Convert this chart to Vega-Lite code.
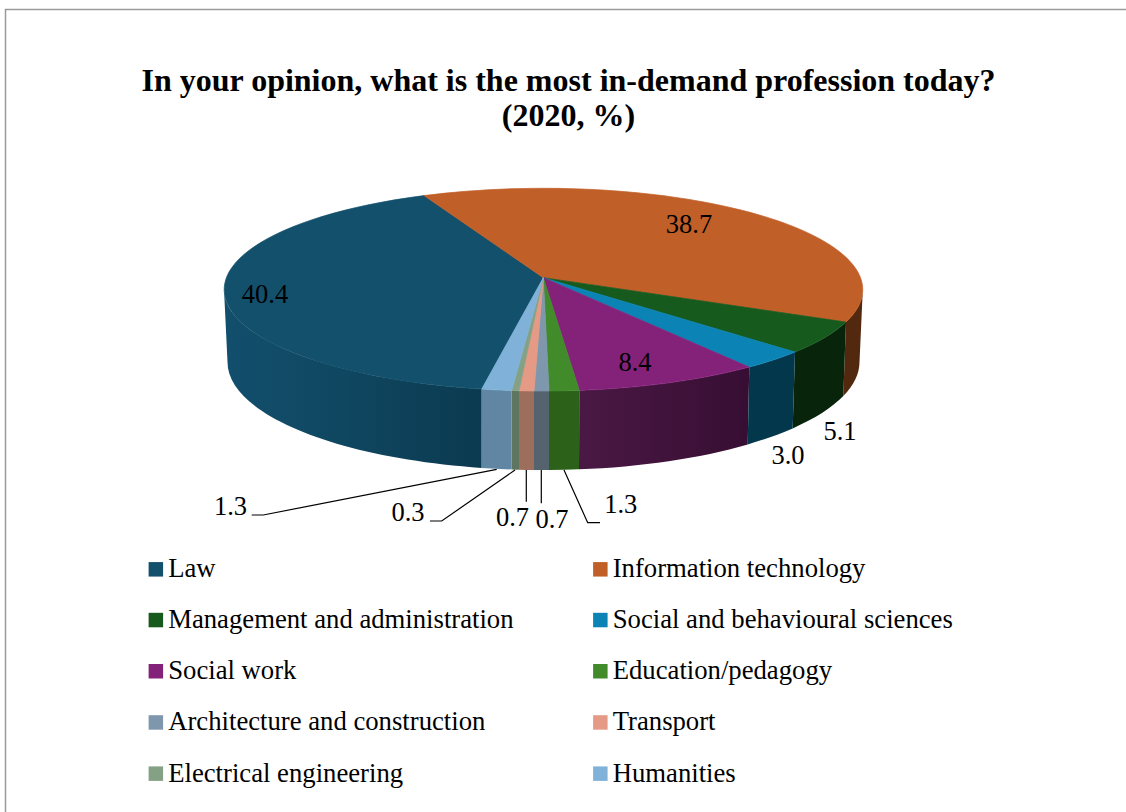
{
"$schema":"https://vega.github.io/schema/vega-lite/v6.json",
"width":1126,"height":812,"padding":0,"autosize":{"type":"none"},
"background":"white",
"config":{"view":{"stroke":null},"font":"Liberation Serif"},
"title":{"text":["In your opinion, what is the most in-demand profession today?","(2020, %)"],"font":"Liberation Serif","fontSize":32,"fontWeight":"bold","color":"black","anchor":"middle","align":"center","baseline":"alphabetic","offset":0,"dx":5.5,"dy":157.5,"lineHeight":35},
"data":{"values":[
{"rank":1,"profession":"Law","value":40.4},
{"rank":2,"profession":"Information technology","value":38.7},
{"rank":3,"profession":"Management and administration","value":5.1},
{"rank":4,"profession":"Social and behavioural sciences","value":3.0},
{"rank":5,"profession":"Social work","value":8.4},
{"rank":6,"profession":"Education/pedagogy","value":1.3},
{"rank":7,"profession":"Architecture and construction","value":0.7},
{"rank":8,"profession":"Transport","value":0.7},
{"rank":9,"profession":"Electrical engineering","value":0.3},
{"rank":10,"profession":"Humanities","value":1.3}
]},
"layer":[
{"data":{"values":[{"frame":"border"}]},
 "mark":{"type":"point","shape":"M-557.5,406L-557.5,-396.5L563,-396.5","size":4,"filled":false,"stroke":"#9a9a9a","strokeWidth":1.5,"opacity":1},"encoding":{}},
{"transform":[{"filter":"datum.profession === 'Law'"}],
 "mark":{"type":"point","filled":true,"size":4,"opacity":1,"fill":{"gradient":"linear","x1":0,"y1":0,"x2":1,"y2":0,"stops":[{"offset":0,"color":"#124f6d"},{"offset":0.5,"color":"#0f465f"},{"offset":1,"color":"#0b3a50"}]}},
 "encoding":{"shape":{"field":"profession","type":"nominal","legend":null,"scale":{"domain":["Law"],"range":["M-339,-116.4A319.4 101.4 0 0 0 -81.3,-16.9L-81.3,61.9A316 108 0 0 1 -335.5,-44Z"]}}}},
{"transform":[{"filter":"datum.profession === 'Social work'"}],
 "mark":{"type":"point","filled":true,"size":4,"opacity":1,"fill":{"gradient":"linear","x1":0,"y1":0,"x2":1,"y2":0,"stops":[{"offset":0,"color":"#4a1844"},{"offset":1,"color":"#370e33"}]}},
 "encoding":{"shape":{"field":"profession","type":"nominal","legend":null,"scale":{"domain":["Social work"],"range":["M186.3,-38.9A319.4 101.4 0 0 1 16.3,-15.6L16,63.3A316 108 0 0 0 184.7,38.4Z"]}}}},
{"transform":[{"filter":"datum.profession !== 'Law' && datum.profession !== 'Social work'"}],
 "mark":{"type":"point","filled":true,"size":4,"opacity":1},
 "encoding":{
 "shape":{"field":"profession","type":"nominal","legend":null,"scale":{
  "domain":["Information technology","Management and administration","Social and behavioural sciences","Education/pedagogy","Architecture and construction","Transport","Electrical engineering","Humanities"],
  "range":[
  "M299.8,-116.4A319.4 101.4 0 0 1 283,-83.95L280.3,-9.9A316 108 0 0 0 296.5,-44Z",
  "M283,-83.95A319.4 101.4 0 0 1 232,-53.9L229.7,22.4A316 108 0 0 0 280.3,-9.9Z",
  "M232,-53.9A319.4 101.4 0 0 1 186.3,-38.9L184.7,38.4A316 108 0 0 0 229.7,22.4Z",
  "M16.3,-15.6A319.4 101.4 0 0 1 -14,-15L-14,64A316 108 0 0 0 16,63.3Z",
  "M-14,-15A319.4 101.4 0 0 1 -29,-15L-29,64A316 108 0 0 0 -14,64Z",
  "M-29,-15A319.4 101.4 0 0 1 -44,-15.3L-44,63.7A316 108 0 0 0 -29,64Z",
  "M-44,-15.3A319.4 101.4 0 0 1 -51.3,-15.5L-51.3,63.45A316 108 0 0 0 -44,63.7Z",
  "M-51.3,-15.5A319.4 101.4 0 0 1 -81.3,-16.9L-81.3,61.9A316 108 0 0 0 -51.3,63.45Z"
  ]}},
 "color":{"field":"profession","type":"nominal","legend":null,"scale":{
  "domain":["Information technology","Management and administration","Social and behavioural sciences","Education/pedagogy","Architecture and construction","Transport","Electrical engineering","Humanities"],
  "range":["#52280e","#08240b","#03384c","#2b6118","#55636f","#9e6e5c","#5e7560","#6186a3"]}}
 }},
{"mark":{"type":"point","filled":true,"size":4,"opacity":1,"strokeWidth":0.7},
 "encoding":{
 "shape":{"field":"profession","type":"nominal","legend":null,"scale":{
  "domain":["Law","Information technology","Management and administration","Social and behavioural sciences","Social work","Education/pedagogy","Architecture and construction","Transport","Electrical engineering","Humanities"],
  "range":[
  "M-19.7,-128.3L-81.3,-16.9A319.4 101.4 0 0 1 -139,-210.4Z",
  "M-19.7,-128.3L-139,-210.4A319.4 101.4 0 0 1 283,-83.95Z",
  "M-19.7,-128.3L283,-83.95A319.4 101.4 0 0 1 232,-53.9Z",
  "M-19.7,-128.3L232,-53.9A319.4 101.4 0 0 1 186.3,-38.9Z",
  "M-19.7,-128.3L186.3,-38.9A319.4 101.4 0 0 1 16.3,-15.6Z",
  "M-19.7,-128.3L16.3,-15.6A319.4 101.4 0 0 1 -14,-15Z",
  "M-19.7,-128.3L-14,-15A319.4 101.4 0 0 1 -29,-15Z",
  "M-19.7,-128.3L-29,-15A319.4 101.4 0 0 1 -44,-15.3Z",
  "M-19.7,-128.3L-44,-15.3A319.4 101.4 0 0 1 -51.3,-15.5Z",
  "M-19.7,-128.3L-51.3,-15.5A319.4 101.4 0 0 1 -81.3,-16.9Z"
  ]}},
 "fill":{"field":"profession","type":"nominal","legend":null,"scale":{
  "domain":["Law","Information technology","Management and administration","Social and behavioural sciences","Social work","Education/pedagogy","Architecture and construction","Transport","Electrical engineering","Humanities"],
  "range":["#12506c","#c15f28","#175a1e","#0b84b5","#84227a","#418b2b","#7f97ac","#e49a85","#84a085","#7fb1d9"]}},
 "stroke":{"field":"profession","type":"nominal","legend":null,"scale":{
  "domain":["Law","Information technology","Management and administration","Social and behavioural sciences","Social work","Education/pedagogy","Architecture and construction","Transport","Electrical engineering","Humanities"],
  "range":["#12506c","#c15f28","#175a1e","#0b84b5","#84227a","#418b2b","#7f97ac","#e49a85","#84a085","#7fb1d9"]}}
 }},
{"mark":{"type":"square","filled":true,"size":0,"opacity":1},
 "encoding":{
 "color":{"field":"profession","type":"nominal","scale":{
  "domain":["Law","Information technology","Management and administration","Social and behavioural sciences","Social work","Education/pedagogy","Architecture and construction","Transport","Electrical engineering","Humanities"],
  "range":["#12506c","#c15f28","#175a1e","#0b84b5","#84227a","#418b2b","#7f97ac","#e49a85","#84a085","#7fb1d9"]},
  "legend":{"orient":"none","legendX":142.5,"legendY":555.5,"direction":"horizontal","columns":2,"title":null,"symbolType":"square","symbolSize":210,"symbolStrokeWidth":0,"symbolOpacity":1,"labelFont":"Liberation Serif","labelFontSize":26.7,"labelColor":"black","labelLimit":600,"labelOffset":-1,"columnPadding":72.5,"rowPadding":23.2,"padding":0,"gridAlign":"all"}}
 }},
{"data":{"values":[
 {"profession":"Humanities"},{"profession":"Electrical engineering"},{"profession":"Transport"},{"profession":"Architecture and construction"},{"profession":"Education/pedagogy"}
 ]},
 "mark":{"type":"point","filled":false,"size":4,"opacity":1,"stroke":"black","strokeWidth":1.2},
 "encoding":{"shape":{"field":"profession","type":"nominal","legend":null,"scale":{
  "domain":["Humanities","Electrical engineering","Transport","Architecture and construction","Education/pedagogy"],
  "range":[
  "M-311.3,109L-299.7,109L-66.3,63.3",
  "M-133,115L-121.3,115L-48,64",
  "M-36.7,64L-36.7,95.7",
  "M-21.7,64L-21.7,97.3",
  "M37,116.7L24.7,116.7L1,64"
  ]}}}},
{"mark":{"type":"text","font":"Liberation Serif","fontSize":26.5,"color":"black","align":"center","baseline":"alphabetic"},
 "encoding":{
 "text":{"field":"value","type":"quantitative","format":".1f"},
 "x":{"field":"rank","type":"quantitative","axis":null,"scale":{"domain":[1,2,3,4,5,6,7,8,9,10],"range":[265,689,840,788,635,620.7,552,512.5,408,230.5],"nice":false,"zero":false}},
 "y":{"field":"rank","type":"quantitative","axis":null,"scale":{"domain":[1,2,3,4,5,6,7,8,9,10],"range":[302.7,232.7,440,464,370.7,512.7,527.5,526,521,515],"nice":false,"zero":false}}
 }}
],
"resolve":{"scale":{"shape":"independent","color":"independent","fill":"independent","stroke":"independent"},"legend":{"color":"independent","shape":"independent","fill":"independent","stroke":"independent"}}
}
